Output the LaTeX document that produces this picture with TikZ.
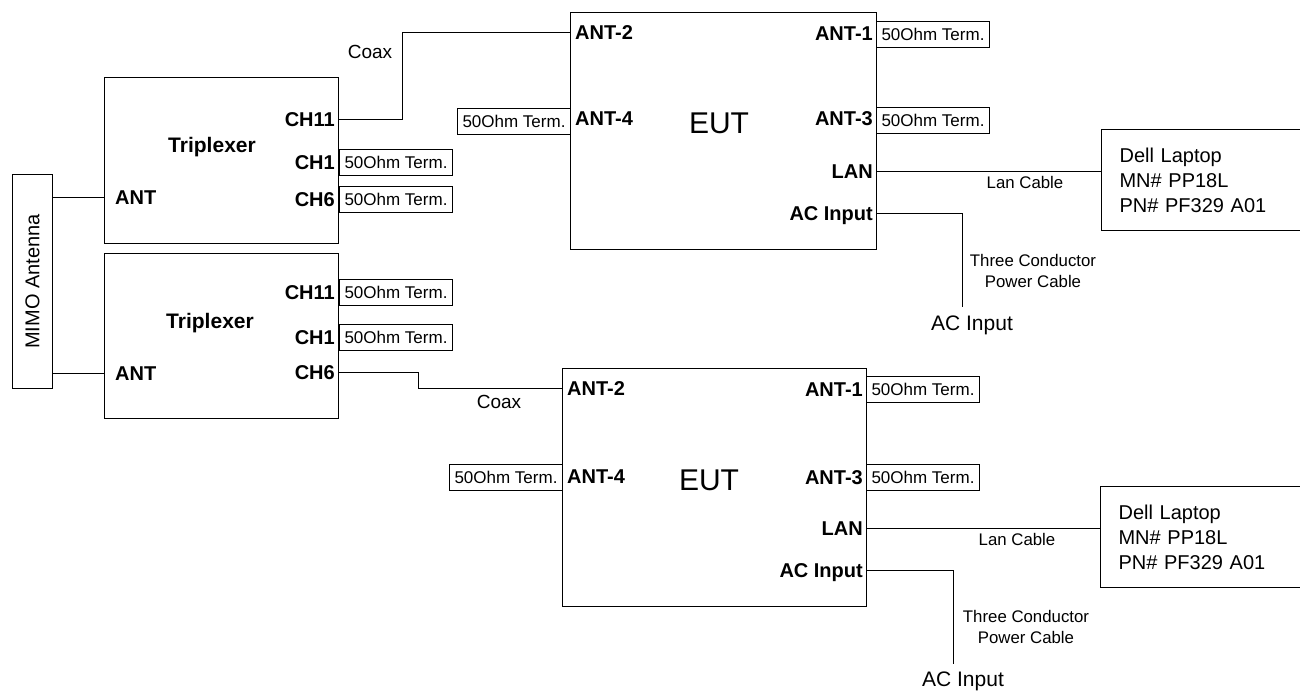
\documentclass[tikz,border=0pt]{standalone}
\usepackage{fontspec}
\setmainfont{Liberation Sans}
\newcommand\fPort{\fontsize{20}{23}\selectfont\bfseries}
\newcommand\fTri{\fontsize{21}{24}\selectfont\bfseries}
\newcommand\fEut{\fontsize{30}{34}\selectfont}
\newcommand\fTerm{\fontsize{17}{19}\selectfont}
\newcommand\fCoax{\fontsize{19}{22}\selectfont}
\newcommand\fCable{\fontsize{16.8}{21.5}\selectfont}
\newcommand\fAC{\fontsize{21}{24}\selectfont}
\newcommand\fLap{\fontsize{20}{25}\selectfont}
\newcommand\fMimo{\fontsize{20}{24}\selectfont}
\begin{document}
\begin{tikzpicture}[x=1pt,y=-1pt,
  blk/.style={draw, line width=1.1pt, inner sep=0pt, anchor=north west},
  term/.style={draw, line width=1pt, minimum width=113pt, minimum height=26pt, inner sep=0pt, anchor=north west, font=\fTerm},
  portw/.style={font=\fPort, inner sep=0pt, text height=14.3pt, text depth=0pt, anchor=west},
  porte/.style={font=\fPort, inner sep=0pt, text height=14.3pt, text depth=0pt, anchor=east},
  trilbl/.style={font=\fTri, inner sep=0pt},
  eutlbl/.style={font=\fEut, inner sep=0pt},
  coaxlbl/.style={font=\fCoax, inner sep=0pt},
  cablelbl/.style={font=\fCable, inner sep=0pt, align=center},
  aclbl/.style={font=\fAC, inner sep=0pt},
  laptop/.style={draw, line width=1.1pt, anchor=north west, minimum height=101pt, text width=180pt, inner xsep=18pt, align=left, font=\fLap},
  wire/.style={line width=1pt}]
\useasboundingbox (0,0) rectangle (1300,694);

% MIMO antenna
\node[blk, minimum width=40pt, minimum height=214pt] (mimo) at (12,174) {};
\node[font=\fMimo, rotate=90, inner sep=0pt] (mimolbl) at (mimo.center) {MIMO Antenna};

% Triplexer 1
\node[blk, minimum width=234pt, minimum height=166pt] (tri1) at (104,77) {};
\node[trilbl] (tri1lbl) at (212,147) {Triplexer};
\node[portw] (t1ant) at (115,197) {ANT};
\node[porte] (t1ch11) at (335,119) {CH11};
\node[porte] (t1ch1) at (335,162) {CH1};
\node[porte] (t1ch6) at (335,199) {CH6};
\node[term] (t1ch1t) at (339,149) {50Ohm Term.};
\node[term] (t1ch6t) at (339,186) {50Ohm Term.};

% Triplexer 2
\node[blk, minimum width=234pt, minimum height=165pt] (tri2) at (104,253) {};
\node[trilbl] (tri2lbl) at (210,323) {Triplexer};
\node[portw] (t2ant) at (115,373) {ANT};
\node[porte] (t2ch11) at (335,292) {CH11};
\node[porte] (t2ch1) at (335,337) {CH1};
\node[porte] (t2ch6) at (335,372) {CH6};
\node[term] (t2ch11t) at (339,279) {50Ohm Term.};
\node[term] (t2ch1t) at (339,324) {50Ohm Term.};

% EUT 1
\node[blk, minimum width=306pt, minimum height=237pt] (eut1) at (570,12) {};
\node[eutlbl] (eut1lbl) at (719,123) {EUT};
\node[portw] (e1ant2) at (575,32) {ANT-2};
\node[portw] (e1ant4) at (575,118) {ANT-4};
\node[porte] (e1ant1) at (873,33) {ANT-1};
\node[porte] (e1ant3) at (873,118) {ANT-3};
\node[porte] (e1lan) at (873,171) {LAN};
\node[porte] (e1ac) at (873,213) {AC Input};
\node[term] (e1ant4t) at (457,108) {50Ohm Term.};
\node[term] (e1ant1t) at (876,21) {50Ohm Term.};
\node[term] (e1ant3t) at (876,107) {50Ohm Term.};

% EUT 2
\node[blk, minimum width=304pt, minimum height=238pt] (eut2) at (562,368) {};
\node[eutlbl] (eut2lbl) at (709,480) {EUT};
\node[portw] (e2ant2) at (567,388) {ANT-2};
\node[portw] (e2ant4) at (567,476) {ANT-4};
\node[porte] (e2ant1) at (863,389) {ANT-1};
\node[porte] (e2ant3) at (863,477) {ANT-3};
\node[porte] (e2lan) at (863,528) {LAN};
\node[porte] (e2ac) at (863,570) {AC Input};
\node[term] (e2ant4t) at (449,464) {50Ohm Term.};
\node[term] (e2ant1t) at (866,376) {50Ohm Term.};
\node[term] (e2ant3t) at (866,464) {50Ohm Term.};

% Laptops
\node[laptop] (lap1) at (1101,129) {Dell Laptop\\MN\# PP18L\\PN\# PF329 A01};
\node[laptop] (lap2) at (1100,486) {Dell Laptop\\MN\# PP18L\\PN\# PF329 A01};

% Cable labels
\node[coaxlbl] (coax1) at (370,52) {Coax};
\node[coaxlbl] (coax2) at (499,402) {Coax};
\node[cablelbl] (lan1lbl) at (1025,182) {Lan Cable};
\node[cablelbl] (lan2lbl) at (1017,539) {Lan Cable};
\node[cablelbl] (pwr1lbl) at (1033,271) {Three Conductor\\Power Cable};
\node[cablelbl] (pwr2lbl) at (1026,627) {Three Conductor\\Power Cable};
\node[aclbl] (ac1lbl) at (972,325) {AC Input};
\node[aclbl] (ac2lbl) at (963,681) {AC Input};

\coordinate (ac1end) at (962,307);
\coordinate (ac2end) at (953,664);

% Wires
\draw[wire] (t1ant.west -| mimo.east) -- (t1ant.west -| tri1.west);
\draw[wire] (t2ant.west -| mimo.east) -- (t2ant.west -| tri2.west);
\draw[wire] (t1ch11.east -| tri1.east) -- ++(63,0) |- (e1ant2.west -| eut1.west);
\draw[wire] (t2ch6.east -| tri2.east) -- ++(79,0) |- (e2ant2.west -| eut2.west);
\draw[wire] (e1lan.east -| eut1.east) -- (e1lan.east -| lap1.west);
\draw[wire] (e2lan.east -| eut2.east) -- (e2lan.east -| lap2.west);
\draw[wire] (e1ac.east -| eut1.east) -| (ac1end);
\draw[wire] (e2ac.east -| eut2.east) -| (ac2end);
\end{tikzpicture}
\end{document}
